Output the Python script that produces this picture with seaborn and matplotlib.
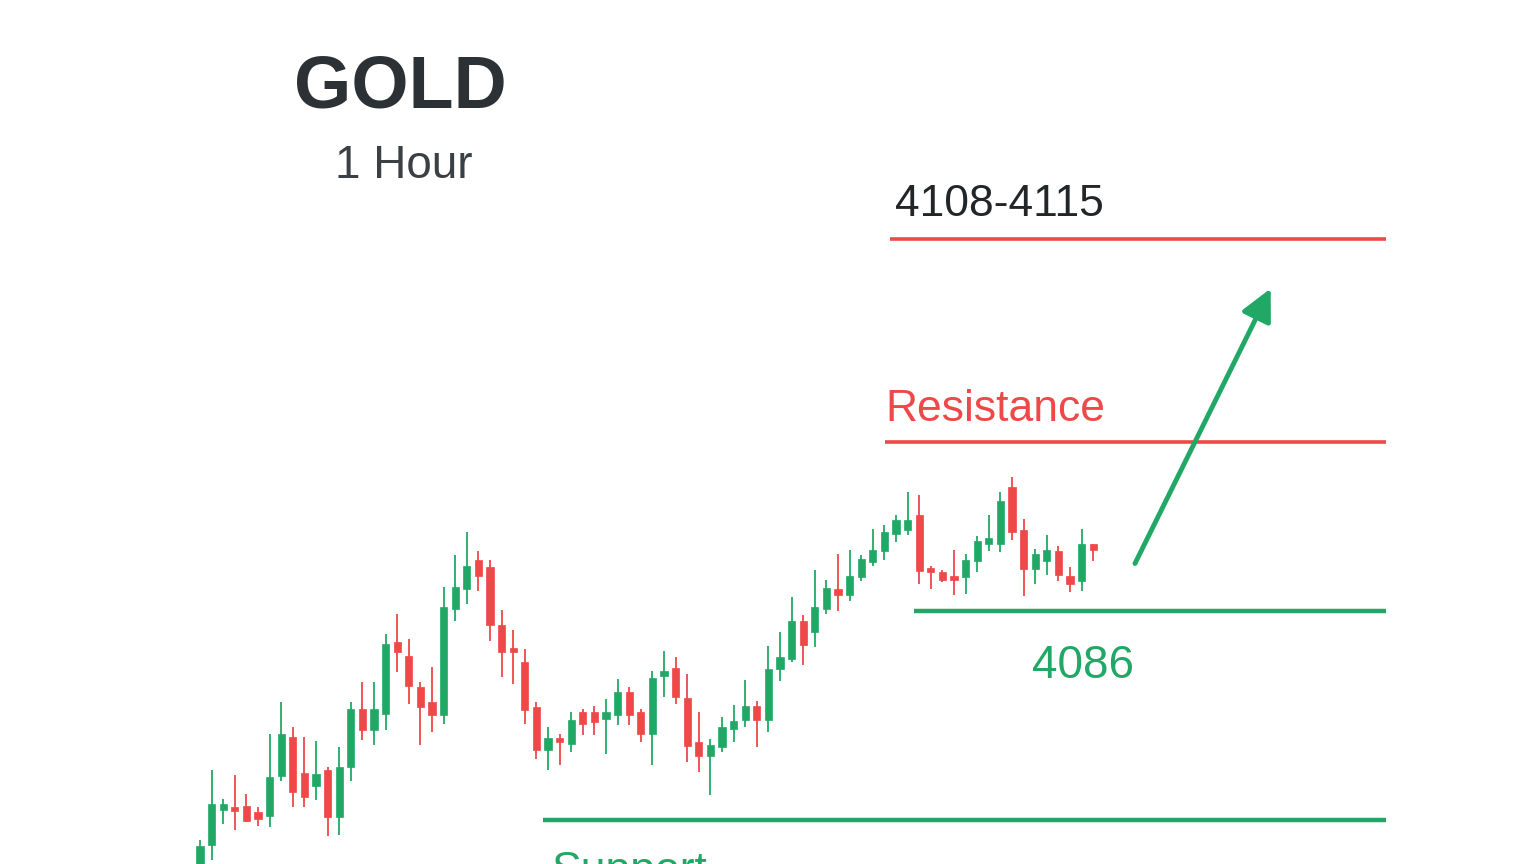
import numpy as np
import pandas as pd
import matplotlib
matplotlib.use("Agg")
import matplotlib.pyplot as plt
import seaborn as sns

# Hourly candles (open, high, low, close)
opens = [4065.3, 4067.3, 4070.1, 4070.2, 4070.4, 4069.9, 4069.6, 4072.8, 4075.9, 4073.0,
         4072.0, 4073.3, 4069.5, 4073.5, 4078.2, 4076.5, 4077.8, 4083.5, 4082.4, 4079.9,
         4078.7, 4077.7, 4086.2, 4087.8, 4090.1, 4089.5, 4084.9, 4083.0, 4081.9, 4078.3,
         4074.9, 4075.7, 4075.4, 4077.9, 4077.9, 4077.4, 4077.7, 4079.5, 4077.9, 4076.2,
         4080.8, 4081.4, 4079.0, 4075.5, 4074.4, 4075.1, 4076.6, 4077.3, 4078.4, 4077.3,
         4081.4, 4082.2, 4085.2, 4084.3, 4086.2, 4087.8, 4087.3, 4088.7, 4089.9, 4090.8,
         4092.2, 4092.5, 4093.7, 4089.4, 4089.1, 4088.8, 4088.7, 4090.0, 4091.4, 4091.4,
         4095.9, 4092.5, 4089.4, 4090.0, 4090.8, 4088.8, 4088.4, 4091.4]
highs = [4067.7, 4073.3, 4071.0, 4072.9, 4071.4, 4070.3, 4076.2, 4078.7, 4076.7, 4075.9,
         4075.6, 4073.5, 4075.1, 4078.7, 4080.3, 4080.3, 4084.2, 4085.8, 4083.8, 4080.3,
         4081.5, 4087.9, 4090.5, 4092.3, 4090.8, 4090.1, 4086.1, 4084.5, 4083.0, 4078.7,
         4076.7, 4076.2, 4077.9, 4078.2, 4078.4, 4079.0, 4080.6, 4079.9, 4078.2, 4081.2,
         4082.8, 4082.3, 4081.0, 4077.9, 4075.8, 4077.5, 4078.5, 4080.5, 4078.8, 4083.2,
         4084.3, 4087.1, 4085.7, 4089.3, 4088.5, 4090.6, 4090.9, 4090.5, 4092.6, 4092.9,
         4093.7, 4095.5, 4095.3, 4089.6, 4089.3, 4090.9, 4090.6, 4092.0, 4093.7, 4095.5,
         4096.7, 4093.4, 4091.0, 4092.1, 4091.2, 4089.5, 4092.6, 4091.4]
lows = [4064.5, 4066.1, 4069.0, 4068.5, 4069.1, 4068.8, 4068.7, 4072.4, 4070.3, 4070.3,
        4070.9, 4068.0, 4068.1, 4072.4, 4075.7, 4075.3, 4076.5, 4081.1, 4078.6, 4075.3,
        4076.3, 4077.0, 4085.2, 4086.6, 4087.6, 4083.6, 4080.7, 4080.2, 4077.0, 4074.2,
        4073.3, 4073.7, 4074.7, 4076.1, 4076.1, 4074.6, 4076.9, 4076.9, 4075.5, 4073.7,
        4079.1, 4078.6, 4073.9, 4073.1, 4071.3, 4074.7, 4075.5, 4076.7, 4075.1, 4076.3,
        4080.4, 4081.9, 4081.7, 4083.1, 4085.8, 4086.0, 4086.8, 4088.4, 4089.6, 4090.1,
        4091.5, 4092.1, 4088.2, 4087.8, 4088.3, 4087.3, 4087.4, 4089.1, 4090.8, 4090.7,
        4091.7, 4087.2, 4088.2, 4088.9, 4088.4, 4087.5, 4087.6, 4090.0]
closes = [4067.2, 4070.6, 4070.6, 4070.0, 4069.2, 4069.4, 4072.7, 4076.2, 4071.5, 4071.1,
          4073.0, 4069.5, 4073.5, 4078.2, 4076.5, 4078.2, 4083.4, 4082.7, 4080.0, 4078.3,
          4077.7, 4086.3, 4087.9, 4089.6, 4088.8, 4084.9, 4082.7, 4082.7, 4078.1, 4074.9,
          4075.8, 4075.5, 4077.3, 4077.0, 4077.1, 4077.9, 4079.5, 4077.7, 4076.2, 4080.6,
          4081.2, 4079.1, 4075.2, 4074.4, 4075.3, 4076.7, 4077.2, 4078.4, 4077.3, 4081.4,
          4082.3, 4085.2, 4083.3, 4086.3, 4087.8, 4087.3, 4088.8, 4090.2, 4090.9, 4092.3,
          4093.3, 4093.3, 4089.2, 4089.1, 4088.5, 4088.5, 4090.1, 4091.6, 4091.8, 4094.8,
          4092.3, 4089.4, 4090.6, 4090.9, 4088.9, 4088.2, 4091.4, 4090.9]

# Levels and annotations
target_level = 4115.8
resistance_level = 4099.5
support_level = 4086.0
lower_support_level = 4069.3
target_label = "4108-4115"
support_label = "4086"

GREEN = "#22a866"
RED = "#ef4848"
DARK = "#2c3135"

df = pd.DataFrame({"open": opens, "high": highs, "low": lows, "close": closes})
df["bar"] = np.arange(len(df))
df["up"] = df["close"] >= df["open"]

sns.set_theme(style="white")
plt.rcParams["font.family"] = ["Liberation Sans", "DejaVu Sans"]

fig = plt.figure(figsize=(15.36, 8.64), dpi=100)
ax = fig.add_axes([0, 0, 1, 1])
ax.set_xlim(-17.24, 115.17)
ax.set_ylim(4065.76, 4134.88)
ax.axis("off")

colors = np.where(df["up"], GREEN, RED)

# Wicks
ax.vlines(df["bar"], df["low"], df["high"], colors=colors, linewidth=1.3, zorder=2)

# Bodies
body_low = np.minimum(df["open"], df["close"])
body_h = np.maximum((df["close"] - df["open"]).abs(), 0.3)
ax.bar(df["bar"], body_h, bottom=body_low, width=0.62, color=colors,
       edgecolor=colors, linewidth=0.5, zorder=3)

# Level lines
ax.hlines(target_level, 59.5, 102.2, color=RED, linewidth=2.6)
ax.hlines(resistance_level, 59.05, 102.2, color=RED, linewidth=2.6)
ax.hlines(support_level, 61.55, 102.2, color=GREEN, linewidth=3.2)
ax.hlines(lower_support_level, 29.57, 102.2, color=GREEN, linewidth=3.2)

# Breakout arrow
ax.annotate("", xy=(92.3, 4111.8), xytext=(80.6, 4089.8),
            arrowprops=dict(arrowstyle="-|>,head_length=1.6,head_width=0.8",
                            color=GREEN, linewidth=3.5, shrinkA=0, shrinkB=0))

# Titles and labels
ax.text(17.24, 4127.8, "GOLD", ha="center", va="center", fontsize=53,
        fontweight="bold", color=DARK)
ax.text(17.58, 4121.6, "1 Hour", ha="center", va="center", fontsize=33,
        color="#3b4045")
ax.text(59.9, 4117.6, target_label, ha="left", va="baseline", fontsize=32,
        color="#222628")
ax.text(59.05, 4101.2, "Resistance", ha="left", va="baseline", fontsize=32,
        color=RED)
ax.text(76.1, 4080.6, support_label, ha="center", va="baseline", fontsize=33,
        color=GREEN)
ax.text(30.3, 4064.2, "Support", ha="left", va="baseline", fontsize=32,
        color=GREEN, clip_on=False)

fig.savefig("out.png", dpi=100)
